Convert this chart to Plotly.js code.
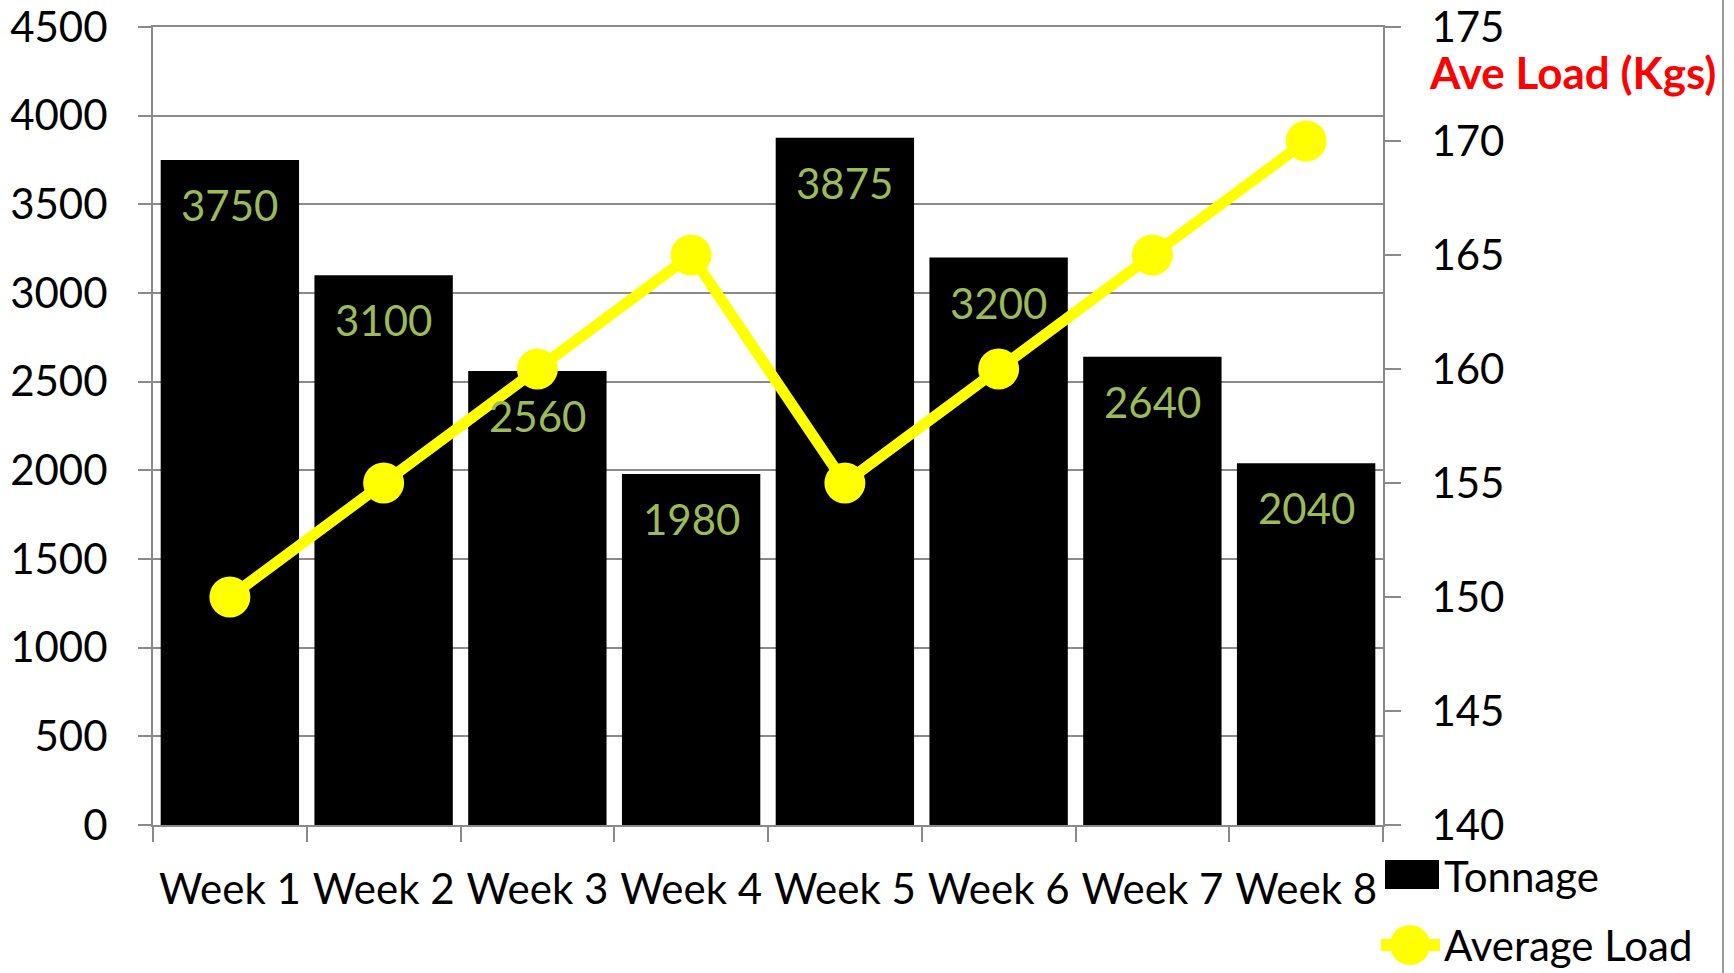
<!DOCTYPE html>
<html>
<head>
<meta charset="utf-8">
<script src="https://cdn.plot.ly/plotly-3.0.1.min.js"></script>
<style>
  html, body { margin: 0; padding: 0; background: #ffffff; }
  #chart { width: 1734px; height: 973px; }
</style>
</head>
<body>
<div id="chart"></div>
<script>
// ---- data ----
const weeks = ["Week 1", "Week 2", "Week 3", "Week 4", "Week 5", "Week 6", "Week 7", "Week 8"];
const tonnage = [3750, 3100, 2560, 1980, 3875, 3200, 2640, 2040];
const averageLoad = [150, 155, 160, 165, 155, 160, 165, 170];
const seriesNames = ["Tonnage", "Average Load"];
const rightAxisTitle = "Ave Load (Kgs)";

// ---- layout geometry (pixels) ----
const W = 1734, H = 973;
const L = 153, R = 1383, T = 27, B = 825;
const FONT = "Lato, 'Open Sans', sans-serif";
const GRID = "#8a8a8a";

// pixel -> paper helpers (for legend decoration only)
const px = x => (x - L) / (R - L);
const py = y => (B - y) / (B - T);

const traces = [
  {
    type: "bar",
    name: seriesNames[0],
    x: weeks,
    y: tonnage,
    marker: { color: "#000000" },
    showlegend: false,
    hoverinfo: "x+y"
  },
  {
    type: "scatter",
    mode: "lines+markers",
    name: seriesNames[1],
    x: weeks,
    y: averageLoad,
    yaxis: "y2",
    line: { color: "#FFFF00", width: 11 },
    marker: { color: "#FFFF00", size: 41, symbol: "circle" },
    showlegend: false,
    hoverinfo: "x+y"
  }
];

// data labels inside top of bars
const annotations = weeks.map((w, i) => ({
  x: w, y: tonnage[i], xref: "x", yref: "y",
  text: String(tonnage[i]),
  showarrow: false,
  yanchor: "middle",
  yshift: -45,
  font: { family: FONT, size: 42, color: "#9BBB59" }
}));

// right-axis title
annotations.push({
  xref: "paper", yref: "paper",
  x: px(1427), y: py(72),
  xanchor: "left", yanchor: "middle",
  text: "<b>" + rightAxisTitle + "</b>",
  showarrow: false,
  font: { family: FONT, size: 44, color: "#FF0000" }
});

// custom legend labels
annotations.push({
  xref: "paper", yref: "paper",
  x: px(1443), y: py(876),
  xanchor: "left", yanchor: "middle",
  text: seriesNames[0], showarrow: false, borderpad: 0,
  font: { family: FONT, size: 42, color: "#000000" }
});
annotations.push({
  xref: "paper", yref: "paper",
  x: px(1443), y: py(945),
  xanchor: "left", yanchor: "middle",
  text: seriesNames[1], showarrow: false, borderpad: 0,
  font: { family: FONT, size: 42, color: "#000000" }
});

const shapes = [
  // legend swatch: bar
  { type: "rect", xref: "paper", yref: "paper",
    x0: px(1385), x1: px(1439), y0: py(889), y1: py(860),
    fillcolor: "#000000", line: { width: 0 } },
  // legend swatch: line + marker
  { type: "line", xref: "paper", yref: "paper",
    x0: px(1381), x1: px(1440), y0: py(945), y1: py(945),
    line: { color: "#FFFF00", width: 12 } },
  { type: "circle", xref: "paper", yref: "paper",
    x0: px(1390), x1: px(1430), y0: py(965), y1: py(925),
    fillcolor: "#FFFF00", line: { width: 0 } },
  // outer right border of chart area
  { type: "line", xref: "paper", yref: "paper",
    x0: px(1723), x1: px(1723), y0: py(H + 5), y1: py(-5),
    line: { color: "#9a9a9a", width: 2 } }
];

const layout = {
  width: W, height: H,
  margin: { l: L, r: W - R, t: T, b: H - B, pad: 0 },
  paper_bgcolor: "#ffffff",
  plot_bgcolor: "#ffffff",
  font: { family: FONT, size: 42, color: "#000000" },
  bargap: 0.1,
  showlegend: false,
  xaxis: {
    type: "category",
    range: [-0.5, weeks.length - 0.5],
    autorange: false,
    showline: true, linecolor: GRID, linewidth: 2,
    mirror: true,
    ticks: "outside", tickson: "boundaries", ticklen: 15, tickwidth: 2, tickcolor: GRID,
    showgrid: false, zeroline: false,
    tickangle: 0,
    tickfont: { family: FONT, size: 42, color: "#000000" },
    ticklabelstandoff: 27
  },
  yaxis: {
    range: [0, 4500], dtick: 500, tick0: 0, autorange: false,
    showline: true, linecolor: GRID, linewidth: 2,
    ticks: "outside", ticklen: 13, tickwidth: 2, tickcolor: GRID,
    showgrid: true, gridcolor: GRID, gridwidth: 2,
    zeroline: false,
    ticklabeloverflow: "allow",
    tickfont: { family: FONT, size: 42, color: "#000000" },
    ticklabelstandoff: 22
  },
  yaxis2: {
    overlaying: "y", side: "right",
    range: [140, 175], dtick: 5, tick0: 140, autorange: false,
    showline: true, linecolor: GRID, linewidth: 2,
    ticks: "outside", ticklen: 16, tickwidth: 2, tickcolor: GRID,
    showgrid: false, zeroline: false,
    ticklabeloverflow: "allow",
    tickfont: { family: FONT, size: 42, color: "#000000" },
    ticklabelstandoff: 22
  },
  annotations: annotations,
  shapes: shapes
};

Plotly.newPlot("chart", traces, layout, { displayModeBar: false, staticPlot: true });
</script>
</body>
</html>
